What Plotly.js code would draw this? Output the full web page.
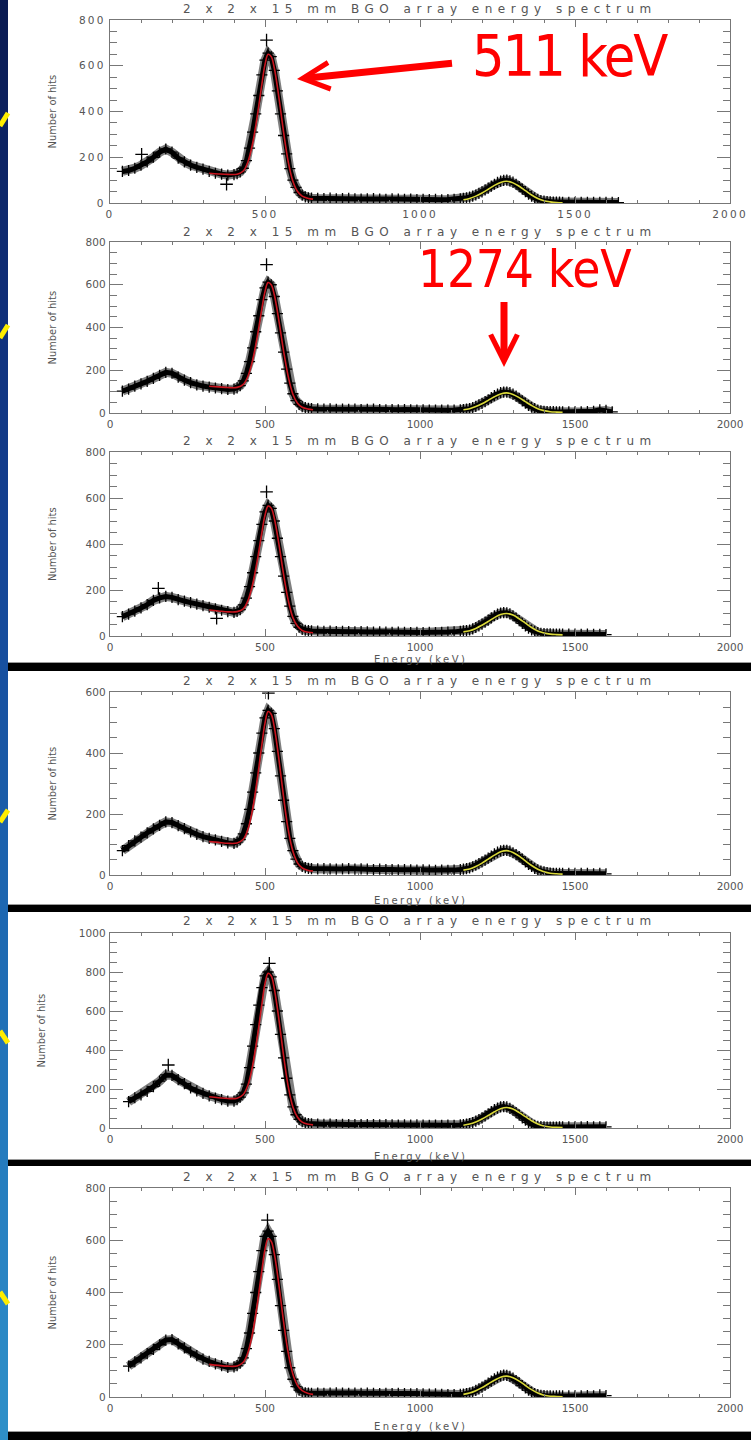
<!DOCTYPE html>
<html><head><meta charset="utf-8">
<script src="https://cdn.plot.ly/plotly-3.0.1.min.js"></script>
<style>
html,body{margin:0;padding:0;background:#000;}
#chart{width:751px;height:1440px;}
.xtick text,.ytick text{letter-spacing:2.2px;}
.annotation-text[data-unformatted^="2 x 2"]{letter-spacing:5.5px;}
.annotation-text[data-unformatted^="Energy"]{letter-spacing:2.4px;}
.annotation-text[data-unformatted="511 keV"]{letter-spacing:-2px;}
.annotation-text[data-unformatted="1274 keV"]{letter-spacing:-0.3px;}
</style></head><body><div id="chart"></div>
<script>
// ---------------- data ----------------
const energy_keV = [40,60,80,100,120,140,160,180,200,220,240,260,280,300,320,340,360,380,400,
 410,420,430,440,450,460,470,480,490,500,510,520,530,540,550,560,570,580,590,600,610,620,630,640,650,
 670,690,710,730,750,770,790,810,830,850,870,890,910,930,950,970,990,1010,1030,1050,1070,1090,1110,1130,
 1140,1150,1160,1170,1180,1190,1200,1210,1220,1230,1240,1250,1260,1270,1280,1290,1300,1310,1320,1330,1340,1350,1360,1370,1380,1390,1400,1410,1420,1430,1440,1450,1460,
 1480,1500,1520,1540,1560,1580,1600,1620,1640];

const counts_p1 = [138,142,152,165,180,200,222,236,222,196,180,166,156,148,138,130,126,122,124,
 128,136,152,185,240,310,390,470,560,625,655,640,580,490,390,295,215,150,100,68,46,34,27,23,21,
 20,19,21,18,19,20,18,17,18,19,17,16,18,17,16,17,15,16,15,16,14,15,16,18,
 20,23,26,30,35,42,49,57,65,74,82,90,96,99,100,97,91,82,72,61,50,39,30,22,16,11,8,6,5,4,4,4,3,
 3,3,3,3,3,3,3,3,2];
const counts_p2 = [102,112,126,136,148,162,176,190,186,168,154,142,132,126,121,117,114,110,112,
 118,128,150,185,240,305,380,455,530,585,612,600,545,465,375,285,205,140,90,58,40,30,25,22,20,
 19,18,19,17,18,17,18,16,17,18,16,15,16,15,16,15,14,15,14,13,14,13,14,15,
 16,18,20,25,31,38,45,53,62,72,81,89,95,98,98,95,88,79,69,57,46,36,27,20,14,10,8,7,6,6,5,5,5,
 5,5,5,6,8,15,12,5,null];
const counts_p3 = [84,95,108,122,136,155,166,172,168,158,152,145,139,132,125,118,112,106,103,
 107,115,135,165,215,275,345,415,485,540,568,555,500,425,345,260,190,130,85,55,38,29,25,23,22,
 21,20,21,19,20,19,18,19,18,17,18,17,16,17,16,15,16,15,16,15,16,17,18,20,
 22,24,26,31,37,44,52,60,69,79,88,95,100,102,101,96,88,78,67,55,44,34,26,20,15,12,10,9,9,8,8,8,8,
 8,8,7,8,7,7,6,null,null];
const counts_p4 = [80,96,112,124,138,151,163,174,172,162,152,141,133,126,120,115,110,105,104,
 108,116,135,168,215,272,335,400,465,515,540,530,480,405,325,245,175,120,80,52,36,28,24,22,21,
 20,21,20,19,20,21,19,20,19,18,19,18,18,17,18,17,16,17,16,15,16,15,16,18,
 19,21,23,27,32,37,43,49,55,62,69,75,79,81,81,78,73,67,60,52,43,35,28,22,17,13,10,8,6,5,5,5,5,
 5,5,5,5,4,5,4,null,null];
const counts_p5 = [null,135,155,170,188,212,240,272,270,248,228,205,190,178,165,153,146,138,138,
 145,158,180,225,310,420,530,630,720,780,800,775,705,600,480,360,255,170,108,68,44,32,26,23,21,
 20,19,20,18,19,18,17,18,17,18,16,17,16,15,16,15,16,15,14,15,14,15,14,16,
 18,20,23,28,35,43,52,62,73,84,94,102,108,110,108,101,91,79,66,52,40,29,20,13,9,7,6,5,5,5,5,6,6,
 6,6,6,7,6,6,6,null,null];
const counts_p6 = [null,118,135,150,166,182,200,218,220,203,188,172,158,145,136,127,120,113,115,
 120,130,150,185,245,320,400,480,560,615,635,615,545,450,350,255,175,112,68,40,26,19,16,15,14,
 15,14,15,16,15,14,15,14,15,14,13,14,13,14,13,12,13,12,11,12,10,9,9,10,
 11,13,15,19,25,31,38,45,53,61,69,76,81,84,83,79,72,63,54,44,35,26,19,13,9,6,5,4,4,3,4,4,4,
 4,4,4,5,4,8,5,null,null];

// isolated crosses standing out of the band
const extra_keV_p1 = [102,376,505], extra_counts_p1 = [213,82,712];
const extra_keV_p2 = [505], extra_counts_p2 = [694];
const extra_keV_p3 = [156,344,505], extra_counts_p3 = [207,77,627];
const extra_keV_p4 = [511], extra_counts_p4 = [596];
const extra_keV_p5 = [188,514], extra_counts_p5 = [323,844];
const extra_keV_p6 = [508], extra_counts_p6 = [677];

// 511 keV fits (red)
const fit511_keV = [320,350,380,410,430,445,460,475,490,500,510,520,530,545,560,575,590,605,620,640,655];
const fit511_p1 = [130,127,125,126,140,180,260,380,520,605,650,640,590,460,310,180,95,50,30,20,17];
const fit511_p2 = [125,122,119,120,134,172,246,357,488,568,610,600,553,430,290,170,88,46,27,18,15];
const fit511_p3 = [113,109,105,106,118,154,224,328,450,525,565,556,512,398,268,155,80,42,24,16,14];
const fit511_p4 = [110,107,104,105,117,150,216,314,428,498,536,527,485,378,255,148,78,40,23,15,13];
const fit511_p5 = [160,155,151,153,172,220,320,465,635,740,793,780,715,555,370,212,108,55,30,19,16];
const fit511_p6 = [125,121,118,119,133,171,245,355,485,565,606,596,549,427,288,168,87,44,24,13,10];

// 1274 keV fits (yellow)
const fit1274_keV = [1140,1160,1180,1200,1220,1240,1260,1280,1300,1320,1340,1360,1380,1400,1420,1440,1460];
const fit1274_p1 = [14,20,30,44,60,77,90,95,88,73,54,35,20,10,5,2,1];
const fit1274_p2 = [15,20,30,43,59,76,89,94,87,72,53,35,20,11,6,4,3];
const fit1274_p3 = [18,23,33,47,63,80,93,98,91,75,56,37,22,13,8,6,5];
const fit1274_p4 = [16,20,28,39,52,65,76,80,74,62,46,31,19,11,6,4,3];
const fit1274_p5 = [14,20,31,46,64,83,99,105,97,79,58,37,21,10,5,3,2];
const fit1274_p6 = [10,15,24,36,50,64,76,80,74,61,44,28,15,7,3,2,1];

const yAxisMax = [800,800,800,600,1000,800];
const xTickVals = [0,500,1000,1500,2000];
const panelTitle = "2 x 2 x 15 mm BGO array energy spectrum";
const yTitle = "Number of hits";
const xTitle = "Energy (keV)";
const peakLabels = ["511 keV","1274 keV"];

// ---------------- layout helpers ----------------
const W = 751, H = 1440;
const px = v => v / W;
const py = v => 1 - v / H;

const countsList = [counts_p1,counts_p2,counts_p3,counts_p4,counts_p5,counts_p6];
const extraX = [extra_keV_p1,extra_keV_p2,extra_keV_p3,extra_keV_p4,extra_keV_p5,extra_keV_p6];
const extraY = [extra_counts_p1,extra_counts_p2,extra_counts_p3,extra_counts_p4,extra_counts_p5,extra_counts_p6];
const fitA = [fit511_p1,fit511_p2,fit511_p3,fit511_p4,fit511_p5,fit511_p6];
const fitB = [fit1274_p1,fit1274_p2,fit1274_p3,fit1274_p4,fit1274_p5,fit1274_p6];

const plotTop = [20,242,452,692,933,1188];
const plotBottom = [203,413,636,875,1128,1397];
const titleY = [9,232,441,681,921,1177];
const yTitleX = [52,52,52,52,41,52];
const energyTitleY = [null,null,660,900,1156,1426];

const axisGray = '#777';
const textGray = '#555';
const hershey = 'DejaVu Sans, Liberation Sans, sans-serif';

const traces = [];
const layout = {
  width: W, height: H,
  margin: {l:0,r:0,t:0,b:0},
  paper_bgcolor: '#000',
  plot_bgcolor: 'rgba(0,0,0,0)',
  showlegend: false,
  shapes: [], annotations: []
};

for (let i = 0; i < 6; i++) {
  const xa = 'x' + (i ? i + 1 : ''), ya = 'y' + (i ? i + 1 : '');
  // soft halo of the noisy data band
  traces.push({x: energy_keV, y: countsList[i], xaxis: xa, yaxis: ya, type: 'scatter', mode: 'lines',
    line: {color: 'rgba(0,0,0,0.5)', width: 9}, connectgaps: false, hoverinfo: 'skip'});
  traces.push({x: energy_keV, y: countsList[i], xaxis: xa, yaxis: ya, type: 'scatter', mode: 'lines+markers',
    line: {color: '#000', width: 5}, connectgaps: false,
    marker: {symbol: 'cross-thin', size: 8, color: '#000', line: {color: '#000', width: 1.3}}, hoverinfo: 'skip'});
  traces.push({x: extraX[i], y: extraY[i], xaxis: xa, yaxis: ya, type: 'scatter', mode: 'markers',
    marker: {symbol: 'cross-thin', size: 9, color: '#000', line: {color: '#000', width: 1.3}}, hoverinfo: 'skip'});
  traces.push({x: fit511_keV, y: fitA[i], xaxis: xa, yaxis: ya, type: 'scatter', mode: 'lines',
    line: {color: '#c8141e', width: 1.6, shape: 'spline'}, hoverinfo: 'skip'});
  traces.push({x: fit1274_keV, y: fitB[i], xaxis: xa, yaxis: ya, type: 'scatter', mode: 'lines',
    line: {color: '#d9d83a', width: 1.6, shape: 'spline'}, hoverinfo: 'skip'});

  const xKey = 'xaxis' + (i ? i + 1 : ''), yKey = 'yaxis' + (i ? i + 1 : '');
  layout[xKey] = {
    domain: [px(110), px(730)], anchor: ya, range: [0, 2000], tickvals: xTickVals,
    ticks: 'inside', ticklen: 7, tickwidth: 1, tickcolor: axisGray,
    minor: {dtick: 100, tick0: 0, ticks: 'inside', ticklen: 3, tickcolor: axisGray, tickwidth: 1},
    showline: true, linecolor: axisGray, linewidth: 1.3, mirror: 'ticks',
    showgrid: false, zeroline: false, ticklabelstandoff: 1,
    tickfont: {family: hershey, size: 10.5, color: textGray}
  };
  layout[yKey] = {
    domain: [py(plotBottom[i]), py(plotTop[i])], anchor: xa, range: [0, yAxisMax[i]], dtick: 200, tick0: 0,
    ticks: 'inside', ticklen: 13, tickwidth: 1, tickcolor: axisGray,
    minor: {dtick: 50, tick0: 0, ticks: 'inside', ticklen: 7, tickcolor: axisGray, tickwidth: 1},
    showline: true, linecolor: axisGray, linewidth: 1.3, mirror: 'ticks',
    showgrid: false, zeroline: false, ticklabelstandoff: 1,
    tickfont: {family: hershey, size: 10.5, color: textGray}
  };
  layout.annotations.push({xref: 'paper', yref: 'paper', x: px(420), y: py(titleY[i]), xanchor: 'center', yanchor: 'middle',
    text: panelTitle, showarrow: false, font: {family: hershey, size: 12, color: textGray}});
  layout.annotations.push({xref: 'paper', yref: 'paper', x: px(yTitleX[i]), y: py((plotTop[i] + plotBottom[i]) / 2),
    xanchor: 'center', yanchor: 'middle', textangle: -90, text: yTitle, showarrow: false,
    font: {family: 'DejaVu Sans Condensed, Liberation Sans Narrow, Liberation Sans, sans-serif', size: 11, color: textGray}});
  if (energyTitleY[i] !== null) {
    layout.annotations.push({xref: 'paper', yref: 'paper', x: px(420), y: py(energyTitleY[i]), xanchor: 'center', yanchor: 'middle',
      text: xTitle, showarrow: false, font: {family: hershey, size: 10, color: textGray}});
  }
}

// ---------------- page decoration (slide background) ----------------
const stops = [[0,[10,26,80]],[300,[15,46,120]],[600,[21,72,154]],[900,[29,102,176]],[1200,[38,127,192]],[1440,[46,144,200]]];
function blueAt(y){
  for (let k = 0; k < stops.length - 1; k++) {
    const [y0,c0] = stops[k], [y1,c1] = stops[k+1];
    if (y <= y1) { const t = (y - y0) / (y1 - y0); return 'rgb(' + c0.map((c,j)=>Math.round(c + (c1[j]-c)*t)).join(',') + ')'; }
  }
  return 'rgb(46,144,200)';
}
for (let s = 0; s < 48; s++) {
  const y0 = s * 30, y1 = y0 + 30;
  layout.shapes.push({type:'rect', xref:'paper', yref:'paper', x0:0, x1:px(8), y0:py(y1), y1:py(y0), layer:'below',
    fillcolor: blueAt(y0 + 15), line:{width:0}});
}
const whiteBlocks = [[0,663],[671,905],[912,1160],[1166,1432]];
whiteBlocks.forEach(([a,b]) => {
  layout.shapes.push({type:'rect', xref:'paper', yref:'paper', x0:px(8), x1:1, y0:py(b), y1:py(a), layer:'below',
    fillcolor:'#fff', line:{width:0}});
});
[662.5, 904.5, 1159.5, 1431.5].forEach(y => {
  layout.shapes.push({type:'line', xref:'paper', yref:'paper', x0:px(8), x1:1, y0:py(y), y1:py(y), layer:'below',
    line:{color:'#9a9a9a', width:1}});
});
[[0,126,8,113],[0,338,8,325],[0,822,8,810],[0,1031,8,1043],[0,1292,8,1304]].forEach(([a,b,c,d]) => {
  layout.shapes.push({type:'line', xref:'paper', yref:'paper', x0:px(a), y0:py(b), x1:px(c), y1:py(d), layer:'below',
    line:{color:'#ffee00', width:5}});
});

// ---------------- peak call-outs ----------------
const bigFont = 'Liberation Sans Narrow, DejaVu Sans Condensed, Open Sans, sans-serif';
function callout(text, cx, cy, size){
  layout.annotations.push({xref:'paper', yref:'paper', x:px(cx), y:py(cy), xanchor:'center', yanchor:'middle',
    text:text, showarrow:false, font:{family:bigFont, size:size, color:'#ff0000'}});
}
callout(peakLabels[0], 570, 56, 57);
callout(peakLabels[1], 525, 269, 51);
function arrow(tipX, tipY, tailX, tailY){
  layout.annotations.push({xref:'paper', yref:'paper', x:px(tipX), y:py(tipY), axref:'paper', ayref:'paper',
    ax:px(tailX), ay:py(tailY), text:' ', showarrow:true, arrowhead:5, arrowsize:0.75, arrowwidth:7,
    arrowcolor:'#ff0000', standoff:0, startstandoff:0});
}
arrow(297, 79, 455, 63);
arrow(504, 367, 504, 292);

Plotly.newPlot('chart', traces, layout, {staticPlot:true, displayModeBar:false});
</script></body></html>
